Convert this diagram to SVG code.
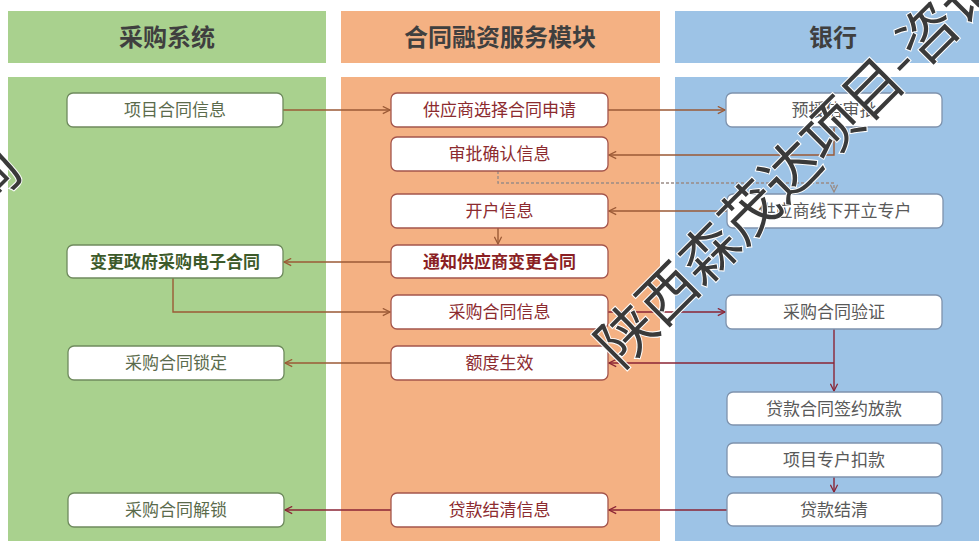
<svg xmlns="http://www.w3.org/2000/svg" width="979" height="541" viewBox="0 0 979 541">
<style>
text{font-family:"Noto Sans CJK SC","Noto Sans",sans-serif;text-anchor:middle}
.hd{font-size:24px;font-weight:700;fill:#3f3f3f}
.nd rect{fill:#fff;stroke-width:1.3}
.g rect{stroke:#6f8a5e}
.g text{fill:#5b6b4c;font-size:17px}
.o rect{stroke:#a4554c}
.o text{fill:#8c2b2f;font-size:17px}
.b rect{stroke:#7f93ad}
.b text{fill:#595959;font-size:17px}
.bold text{font-weight:700;font-size:17px}
.g.bold text{fill:#3d5a2a}
.o.bold text{fill:#8a1f24}
.c{fill:none;stroke-width:1.4}
.br{stroke:#9b5a36}
.dr{stroke:#8b2535}
.dash{stroke:#9a8c86;stroke-dasharray:3 2}
.wm{font-size:58px;fill:#3a3a3a;stroke:#fff;stroke-width:2;paint-order:stroke;text-anchor:start;font-family:"Noto Sans CJK SC",sans-serif}
</style>
<defs>
<marker id="ab" viewBox="0 0 10 10" refX="9" refY="5" markerWidth="9" markerHeight="9" markerUnits="userSpaceOnUse" orient="auto"><path d="M1,1 L9,5 L1,9" fill="none" stroke="#9b5a36" stroke-width="1.4"/></marker>
<marker id="ar" viewBox="0 0 10 10" refX="9" refY="5" markerWidth="9" markerHeight="9" markerUnits="userSpaceOnUse" orient="auto"><path d="M1,1 L9,5 L1,9" fill="none" stroke="#8b2535" stroke-width="1.4"/></marker>
<marker id="ag" viewBox="0 0 10 10" refX="9" refY="5" markerWidth="9" markerHeight="9" markerUnits="userSpaceOnUse" orient="auto"><path d="M1,1 L9,5 L1,9" fill="none" stroke="#9a8c86" stroke-width="1.4"/></marker>
</defs>
<rect width="979" height="541" fill="#fff"/>
<g id="lanes">
<rect x="8" y="11" width="318" height="52" fill="#a9d18e"/>
<rect x="341" y="11" width="319" height="52" fill="#f4b183"/>
<rect x="675" y="11" width="318" height="52" fill="#9dc3e6"/>
<rect x="8" y="77" width="318" height="470" fill="#a9d18e"/>
<rect x="341" y="77" width="319" height="470" fill="#f4b183"/>
<rect x="675" y="77" width="318" height="470" fill="#9dc3e6"/>
<text class="hd" x="167" y="46">采购系统</text>
<text class="hd" x="500" y="46">合同融资服务模块</text>
<text class="hd" x="833" y="46">银行</text>
</g>
<g id="connectors">
<path class="c br" d="M283,110 H390" marker-end="url(#ab)"/>
<path class="c br" d="M608,110 H725" marker-end="url(#ab)"/>
<path class="c br" d="M834,127 V155 H609" marker-end="url(#ab)"/>
<path class="c dash" d="M498,171 V183 H834 V192" marker-end="url(#ag)"/>
<path class="c br" d="M727,211 H609" marker-end="url(#ab)"/>
<path class="c br" d="M498,228 V244" marker-end="url(#ab)"/>
<path class="c br" d="M391,262 H284" marker-end="url(#ab)"/>
<path class="c br" d="M173,278 V312 H390" marker-end="url(#ab)"/>
<path class="c dr" d="M608,312 H725" marker-end="url(#ar)"/>
<path class="c dr" d="M834,328 V391" marker-end="url(#ar)"/>
<path class="c dr" d="M834,363 H609" marker-end="url(#ar)"/>
<path class="c br" d="M391,363 H285" marker-end="url(#ab)"/>
<path class="c dr" d="M834,477 V492" marker-end="url(#ar)"/>
<path class="c dr" d="M727,510 H609" marker-end="url(#ar)"/>
<path class="c dr" d="M391,510 H285" marker-end="url(#ar)"/>
</g>
<g id="n1" class="nd g"><rect x="67" y="93" width="216" height="34" rx="6"/><text x="175" y="116">项目合同信息</text></g>
<g id="n2" class="nd g bold"><rect x="67" y="245" width="216" height="33" rx="6"/><text x="175" y="268">变更政府采购电子合同</text></g>
<g id="n3" class="nd g"><rect x="68" y="346" width="216" height="34" rx="6"/><text x="176" y="369">采购合同锁定</text></g>
<g id="n4" class="nd g"><rect x="68" y="493" width="216" height="34" rx="6"/><text x="176" y="516">采购合同解锁</text></g>
<g id="m1" class="nd o"><rect x="391" y="93" width="217" height="34" rx="6"/><text x="499.5" y="116">供应商选择合同申请</text></g>
<g id="m2" class="nd o"><rect x="391" y="137" width="217" height="34" rx="6"/><text x="499.5" y="160">审批确认信息</text></g>
<g id="m3" class="nd o"><rect x="391" y="194" width="217" height="34" rx="6"/><text x="499.5" y="217">开户信息</text></g>
<g id="m4" class="nd o bold"><rect x="391" y="245" width="217" height="33" rx="6"/><text x="499.5" y="268">通知供应商变更合同</text></g>
<g id="m5" class="nd o"><rect x="391" y="295" width="217" height="34" rx="6"/><text x="499.5" y="318">采购合同信息</text></g>
<g id="m6" class="nd o"><rect x="391" y="346" width="217" height="34" rx="6"/><text x="499.5" y="369">额度生效</text></g>
<g id="m7" class="nd o"><rect x="391" y="493" width="217" height="34" rx="6"/><text x="499.5" y="516">贷款结清信息</text></g>
<g id="r1" class="nd b"><rect x="726" y="93" width="216" height="34" rx="6"/><text x="834" y="116">预授信审批</text></g>
<g id="r2" class="nd b"><rect x="727" y="194" width="216" height="34" rx="6"/><text x="835" y="217">供应商线下开立专户</text></g>
<g id="r3" class="nd b"><rect x="726" y="295" width="216" height="34" rx="6"/><text x="834" y="318">采购合同验证</text></g>
<g id="r4" class="nd b"><rect x="727" y="392" width="215" height="33" rx="6"/><text x="834" y="415">贷款合同签约放款</text></g>
<g id="r5" class="nd b"><rect x="727" y="443" width="215" height="34" rx="6"/><text x="834" y="466">项目专户扣款</text></g>
<g id="r6" class="nd b"><rect x="727" y="493" width="215" height="33" rx="6"/><text x="834" y="516">贷款结清</text></g>
<g id="watermark">
<text class="wm" transform="translate(621,370) rotate(-45)">陕西森茂达项目-咨询</text>
<text class="wm" transform="translate(-358,556) rotate(-45)">陕西森茂达项目-咨询</text>
</g>
</svg>
